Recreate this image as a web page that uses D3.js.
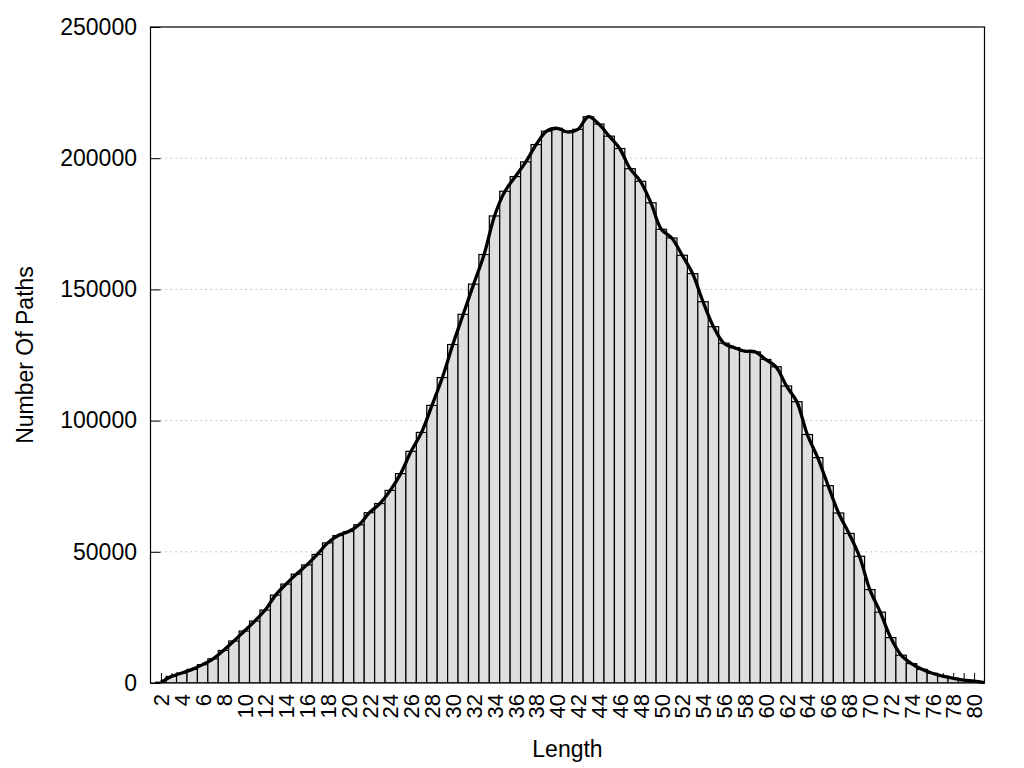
<!DOCTYPE html>
<html>
<head>
<meta charset="utf-8">
<script src="https://cdn.jsdelivr.net/npm/d3@7"></script>
<style>
  body { margin: 0; background: #fff; }
  text { font-family: "Liberation Sans", Arial, sans-serif; }
</style>
</head>
<body>
<main></main>
<script>
const width = 1024;
const height = 768;
const plot = {left: 150.5, right: 984.5, top: 27, bottom: 683};

// path length -> number of paths (x = 2 .. 81)
const lengths = d3.range(2, 82);
const counts = [
  300, 2500, 3800, 5200, 7000, 9200, 12400, 16000, 19800, 23600,
  27800, 33500, 37700, 41500, 45000, 49000, 53400, 56200, 57700, 60300,
  64900, 68400, 73400, 79800, 88300, 95500, 105800, 116400, 129000, 140500,
  152000, 163300, 178000, 187400, 193000, 198600, 205200, 210300, 211400, 210000,
  211000, 215800, 213000, 208400, 203700, 196000, 191200, 183000, 172900, 169600,
  163000, 156000, 145300, 135800, 129500, 127800, 126500, 126200, 123300, 120500,
  113200, 107200, 94700, 85900, 75200, 64800, 57000, 48300, 35600, 27000,
  17300, 10600, 7400, 5200, 3700, 2600, 1800, 1100, 700, 100
];
const xTicks = d3.range(2, 81);
const yTicks = [0, 50000, 100000, 150000, 200000, 250000];

const data = lengths.map((l, i) => ({len: l, n: counts[i]}));

const x = d3.scaleLinear().domain([1, 81]).range([plot.left, plot.right]);
const y = d3.scaleLinear().domain([0, 250000]).range([plot.bottom, plot.top]);

const svg = d3.select('main').append('svg')
    .attr('width', width)
    .attr('height', height);

svg.append('clipPath').attr('id', 'clip')
  .append('rect')
    .attr('x', plot.left).attr('y', plot.top)
    .attr('width', plot.right - plot.left).attr('height', plot.bottom - plot.top);

// grid
svg.append('g')
  .selectAll('line')
  .data(yTicks.filter(d => d > 0 && d < 250000))
  .enter().append('line')
    .attr('x1', plot.left).attr('x2', plot.right)
    .attr('y1', d => y(d)).attr('y2', d => y(d))
    .style('stroke', '#b8b8b8')
    .style('stroke-dasharray', '1.5,3.5');

// y axis
const yAxis = svg.append('g')
    .attr('transform', `translate(${plot.left},0)`)
    .call(d3.axisLeft(y).tickValues(yTicks).tickSize(-10).tickPadding(13.5).tickFormat(d3.format('d')));
yAxis.select('.domain').remove();
yAxis.selectAll('line').style('stroke', '#000');
yAxis.selectAll('text').style('font-size', '23px').style('fill', '#000');

// x axis (ticks sit under the boxes)
const xAxis = svg.append('g')
    .attr('transform', `translate(0,${plot.bottom})`)
    .call(d3.axisBottom(x).tickValues(xTicks).tickSize(-10)
      .tickFormat(d => d % 2 === 0 ? d : ''));
xAxis.select('.domain').remove();
xAxis.selectAll('line').style('stroke', '#000');
xAxis.selectAll('text')
    .attr('x', -11).attr('y', 0).attr('dy', '0.35em')
    .attr('transform', 'rotate(-90)')
    .style('text-anchor', 'end')
    .style('font-size', '22px').style('fill', '#000');

// boxes
svg.append('g')
    .attr('clip-path', 'url(#clip)')
  .selectAll('rect')
  .data(data)
  .enter().append('rect')
    .attr('x', d => x(d.len - 0.5))
    .attr('width', d => x(d.len + 0.5) - x(d.len - 0.5))
    .attr('y', d => y(d.n))
    .attr('height', d => y(0) - y(d.n))
    .style('fill', '#dedede')
    .style('stroke', '#000')
    .style('stroke-width', 1.2);

// smooth curve through box tops
const line = d3.line()
    .x(d => x(d.len))
    .y(d => y(d.n))
    .curve(d3.curveCatmullRom.alpha(0.5));

svg.append('path')
    .datum(data)
    .attr('d', line)
    .style('fill', 'none')
    .style('stroke', '#000')
    .style('stroke-width', 3.3)
    .style('stroke-linejoin', 'round');

// frame
svg.append('rect')
    .attr('x', plot.left).attr('y', plot.top)
    .attr('width', plot.right - plot.left).attr('height', plot.bottom - plot.top)
    .style('fill', 'none').style('stroke', '#000').style('stroke-width', 1.2);

// titles
svg.append('text')
    .attr('x', (plot.left + plot.right) / 2).attr('y', 757)
    .style('text-anchor', 'middle').style('font-size', '23px')
    .text('Length');

svg.append('text')
    .attr('transform', `translate(33,${(plot.top + plot.bottom) / 2}) rotate(-90)`)
    .style('text-anchor', 'middle').style('font-size', '23px')
    .text('Number Of Paths');
</script>
</body>
</html>
